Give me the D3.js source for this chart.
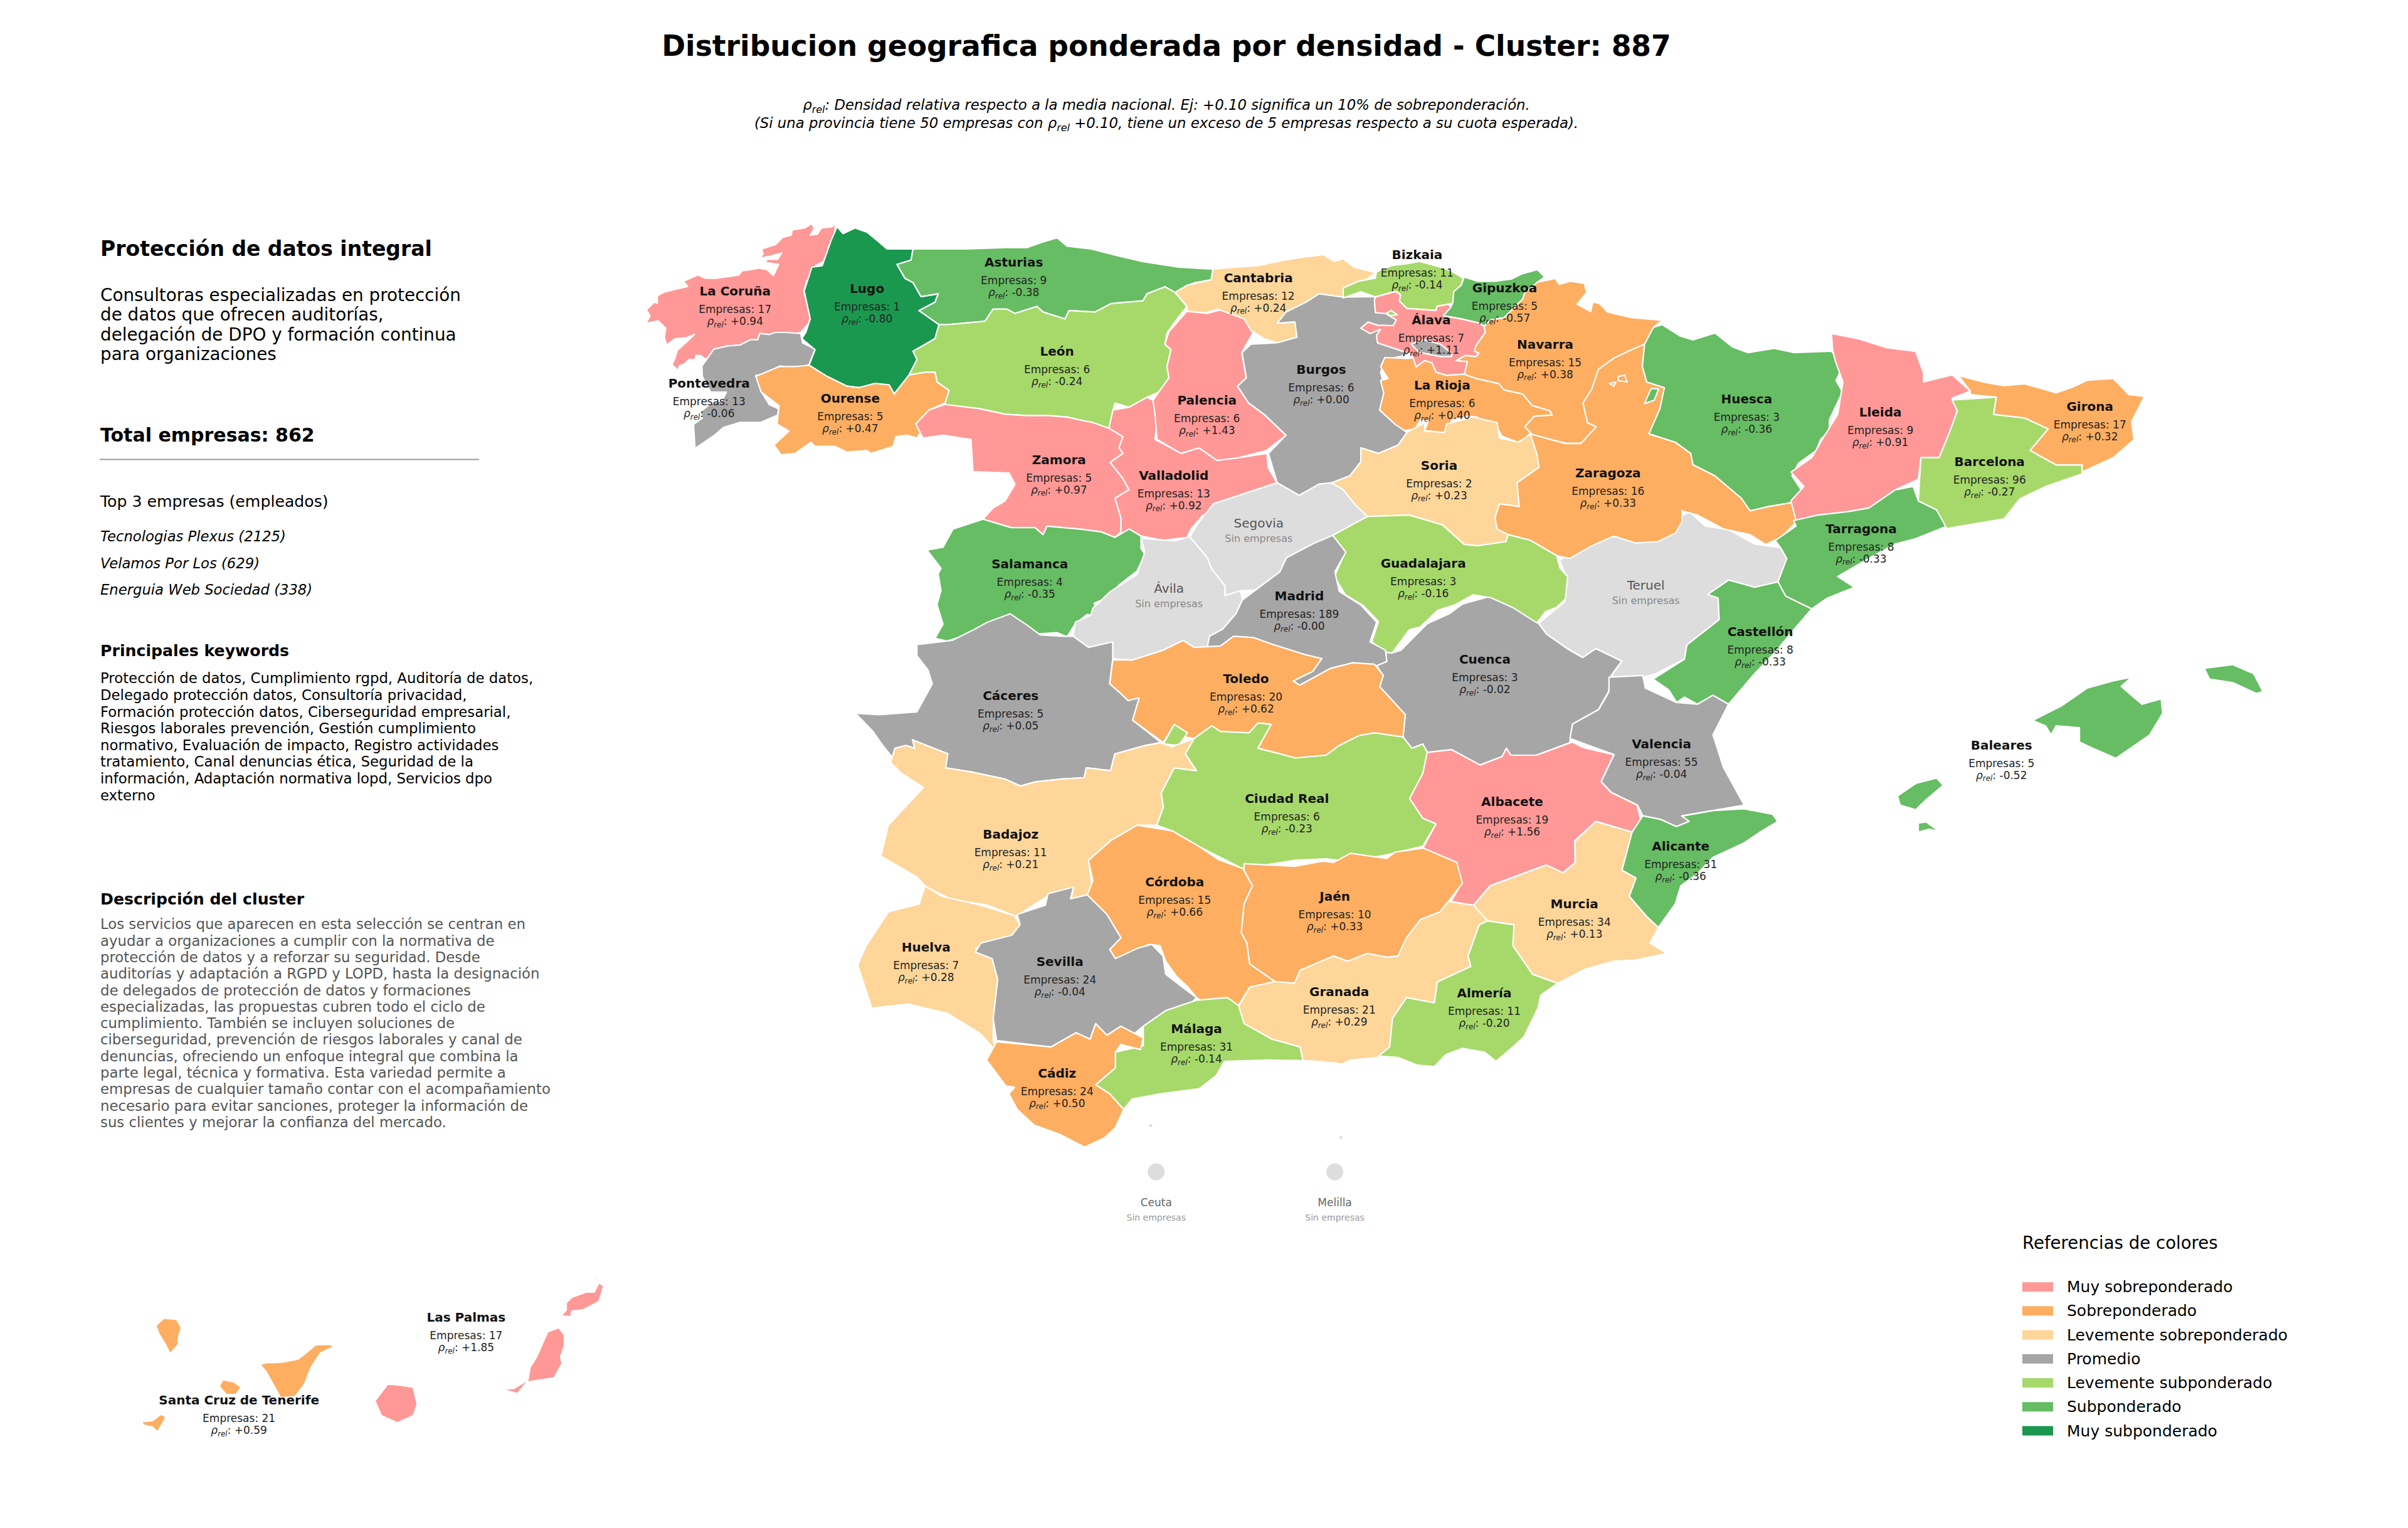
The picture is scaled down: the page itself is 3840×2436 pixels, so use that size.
<!DOCTYPE html>
<html>
<head>
<meta charset="utf-8">
<script src="https://cdn.jsdelivr.net/npm/d3@7"></script>
<style>
  html, body { margin: 0; background: #fff; }
  text { font-family: "DejaVu Sans", sans-serif; }
</style>
</head>
<body>
<svg id="chart" width="3840" height="2436"></svg>
<script>
// province data, as printed on the map
const provinces = ["La Coruña","Lugo","Asturias","León","Pontevedra","Ourense","Zamora","Palencia","Valladolid","Salamanca",
  "Cantabria","Bizkaia","Gipuzkoa","Álava","Navarra","Burgos","La Rioja","Soria","Zaragoza","Huesca","Guadalajara","Madrid",
  "Lleida","Girona","Barcelona","Tarragona","Castellón","Valencia","Baleares","Alicante",
  "Toledo","Cuenca","Cáceres","Badajoz","Ciudad Real","Albacete",
  "Córdoba","Jaén","Huelva","Sevilla","Murcia","Granada","Almería","Málaga","Cádiz",
  "Las Palmas","Santa Cruz de Tenerife"];
const empresas = [17,1,9,6,13,5,5,6,13,4,
  12,11,5,7,15,6,6,2,16,3,3,189,
  9,17,96,8,8,55,5,31,
  20,3,5,11,6,19,
  15,10,7,24,34,21,11,31,24,
  17,21];
const rhoRel = ["+0.94","-0.80","-0.38","-0.24","-0.06","+0.47","+0.97","+1.43","+0.92","-0.35",
  "+0.24","-0.14","-0.57","+1.11","+0.38","+0.00","+0.40","+0.23","+0.33","-0.36","-0.16","-0.00",
  "+0.91","+0.32","-0.27","-0.33","-0.33","-0.04","-0.52","-0.36",
  "+0.62","-0.02","+0.05","+0.21","-0.23","+1.56",
  "+0.66","+0.33","+0.28","-0.04","+0.13","+0.29","-0.20","-0.14","+0.50",
  "+1.85","+0.59"];
const sinEmpresas = ["Segovia","Ávila","Teruel"];
const plazas = ["Ceuta","Melilla"];
const totalEmpresas = 862;

const legendLabels = ["Muy sobreponderado","Sobreponderado","Levemente sobreponderado","Promedio","Levemente subponderado","Subponderado","Muy subponderado"];
const legendColors = ["#ff9896","#fdae61","#fed699","#a6a6a6","#a6d96a","#66bd63","#1a9850"];
const rhoBreaks = [-0.75,-0.3,-0.1,0.1,0.3,0.75];

const introLines = ["Consultoras especializadas en protección","de datos que ofrecen auditorías,","delegación de DPO y formación continua","para organizaciones"];
const topEmpresas = ["Tecnologias Plexus (2125)","Velamos Por Los (629)","Energuia Web Sociedad (338)"];
const keywordLines = ["Protección de datos, Cumplimiento rgpd, Auditoría de datos,","Delegado protección datos, Consultoría privacidad,","Formación protección datos, Ciberseguridad empresarial,","Riesgos laborales prevención, Gestión cumplimiento","normativo, Evaluación de impacto, Registro actividades","tratamiento, Canal denuncias ética, Seguridad de la","información, Adaptación normativa lopd, Servicios dpo","externo"];
const descLines = ["Los servicios que aparecen en esta selección se centran en","ayudar a organizaciones a cumplir con la normativa de","protección de datos y a reforzar su seguridad. Desde","auditorías y adaptación a RGPD y LOPD, hasta la designación","de delegados de protección de datos y formaciones","especializadas, las propuestas cubren todo el ciclo de","cumplimiento. También se incluyen soluciones de","ciberseguridad, prevención de riesgos laborales y canal de","denuncias, ofreciendo un enfoque integral que combina la","parte legal, técnica y formativa. Esta variedad permite a","empresas de cualquier tamaño contar con el acompañamiento","necesario para evitar sanciones, proteger la información de","sus clientes y mejorar la confianza del mercado."];

// outlines were traced on separate map sheets, each sheet gets its own pair of scales
const sheetBoxes = {
  A: [1000,330,1000,700,1568,1568],
  B: [1900,330,1100,700,1568,1568],
  C: [2400,500,1300,900,1568,1568],
  D: [1350,800,1100,700,1568,1568],
  E: [1350,1350,1400,650,1568,1568],
  F: [200,2000,800,350,1568,1050],
  G: [1020,350,320,390,960,1170],
  H: [2150,420,400,320,1200,960]
};
const sheets = {};
Object.entries(sheetBoxes).forEach(([k, b]) => {
  sheets[k] = {
    x: d3.scaleLinear().domain([0, b[4]]).range([b[0], b[0] + b[2]]),
    y: d3.scaleLinear().domain([0, b[5]]).range([b[1], b[1] + b[3]])
  };
});

// paint order matters: the later province owns the shared border
const outlines = [
  ["Cuenca","D",[[1240,540],[1260,530],[1320,435],[1370,400],[1400,365],[1470,335],[1530,385],[1573,434],[1591,472],[1638,524],[1673,556],[1703,524],[1762,569],[1738,620],[1732,678],[1709,742],[1650,794],[1644,860],[1568,905],[1510,905],[1500,880],[1490,910],[1440,940],[1375,885],[1320,895],[1310,865],[1285,880],[1265,840],[1270,760],[1212,660],[1220,620],[1205,585],[1228,570],[1225,530]]],
  ["Teruel","C",[[105,685],[140,650],[190,620],[245,620],[300,625],[330,570],[355,550],[385,590],[430,600],[480,640],[530,650],[542,680],[530,745],[480,760],[430,740],[390,780],[410,790],[412,850],[350,920],[345,960],[290,1000],[265,1010],[265,1045],[205,1005],[225,965],[175,930],[150,955],[120,930],[80,890],[65,860],[115,800],[120,740]]],
  ["La Coruña","G",[[948,12],[935,35],[935,70],[920,110],[905,125],[900,150],[880,200],[830,228],[825,262],[800,290],[785,345],[805,410],[815,470],[810,495],[770,540],[745,545],[700,540],[650,540],[620,550],[575,545],[565,575],[530,575],[480,600],[420,605],[355,620],[320,670],[290,650],[270,650],[265,670],[235,670],[215,690],[190,700],[185,722],[155,695],[170,660],[180,625],[220,590],[262,550],[225,565],[170,570],[130,600],[118,565],[125,520],[90,485],[60,490],[30,498],[50,460],[32,432],[70,395],[85,400],[85,365],[115,348],[165,335],[230,320],[210,295],[280,265],[310,280],[360,282],[410,275],[475,265],[490,245],[530,240],[570,232],[610,240],[640,268],[665,215],[600,205],[610,190],[660,190],[680,160],[625,175],[575,185],[590,165],[585,140],[650,120],[685,85],[725,75],[730,50],[790,40],[825,18],[835,45],[815,75],[850,70],[870,40],[920,35]]],
  ["Pontevedra","G",[[770,545],[780,590],[840,620],[810,695],[740,712],[670,700],[600,740],[555,745],[580,790],[580,820],[620,885],[665,905],[660,935],[580,970],[480,970],[400,995],[360,1030],[265,1095],[258,980],[300,950],[290,920],[340,880],[395,865],[415,825],[385,825],[340,825],[315,780],[300,750],[298,700],[320,670],[355,620],[420,605],[480,600],[530,575],[565,575],[575,545],[620,550],[650,540],[700,540]]],
  ["Lugo","A",[[525,70],[540,95],[570,75],[600,90],[630,125],[650,150],[715,150],[710,190],[675,205],[695,255],[715,270],[735,320],[778,310],[770,340],[730,370],[745,385],[780,420],[770,470],[740,495],[715,515],[725,545],[705,600],[668,668],[655,635],[620,630],[580,645],[550,640],[500,605],[455,565],[470,510],[437,470],[447,447],[458,400],[443,300],[462,215],[488,210],[510,120]]],
  ["Asturias","A",[[715,150],[800,150],[850,150],[950,145],[1000,145],[1040,125],[1075,110],[1100,140],[1160,150],[1230,175],[1290,195],[1380,215],[1465,222],[1460,260],[1420,270],[1400,280],[1370,305],[1345,285],[1300,310],[1290,335],[1210,345],[1170,375],[1105,370],[1095,400],[1040,375],[1025,355],[970,380],[950,365],[915,365],[895,408],[800,420],[780,420],[745,385],[730,370],[770,340],[778,310],[735,320],[715,270],[695,255],[675,205],[710,190]]],
  ["León","A",[[780,420],[800,420],[895,408],[915,365],[950,365],[970,380],[1025,355],[1040,375],[1095,400],[1105,370],[1170,375],[1210,345],[1290,335],[1300,310],[1345,285],[1370,305],[1400,355],[1375,400],[1350,450],[1345,490],[1360,510],[1350,570],[1355,610],[1330,660],[1300,680],[1255,715],[1220,700],[1215,725],[1205,790],[1190,785],[1165,770],[1130,760],[1100,750],[1055,745],[1000,745],[945,740],[880,720],[800,715],[795,700],[805,655],[775,625],[770,590],[705,600],[725,545],[715,515],[740,495],[770,470]]],
  ["Ourense","A",[[455,565],[500,605],[550,640],[580,645],[620,630],[655,635],[668,668],[705,600],[745,590],[770,590],[775,625],[805,655],[795,700],[755,725],[722,775],[738,795],[725,825],[700,815],[672,820],[665,855],[610,880],[600,870],[550,875],[520,855],[470,855],[460,840],[420,880],[385,885],[367,850],[405,800],[375,775],[380,710],[335,660],[322,605],[380,570],[420,570]]],
  ["Zamora","A",[[795,705],[880,720],[945,740],[1000,745],[1055,745],[1100,750],[1130,760],[1165,770],[1205,790],[1240,820],[1230,860],[1240,880],[1208,912],[1240,970],[1255,1010],[1220,1040],[1235,1110],[1235,1160],[1220,1180],[1185,1160],[1130,1150],[1050,1140],[1040,1170],[1020,1145],[960,1145],[890,1115],[915,1075],[945,1050],[970,990],[955,950],[865,945],[860,830],[790,815],[740,825],[722,775],[755,725]]],
  ["Valladolid","A",[[1205,790],[1215,725],[1255,715],[1300,680],[1330,700],[1320,830],[1385,880],[1430,860],[1475,905],[1530,895],[1600,880],[1603,930],[1625,985],[1466,1060],[1480,1100],[1440,1100],[1410,1150],[1400,1180],[1340,1190],[1285,1175],[1255,1150],[1235,1180],[1220,1180],[1235,1160],[1235,1110],[1220,1040],[1255,1010],[1240,970],[1208,912],[1240,880],[1230,860],[1240,820]]],
  ["Palencia","A",[[1400,372],[1450,380],[1490,365],[1545,400],[1565,450],[1537,520],[1548,610],[1526,640],[1554,700],[1592,740],[1614,770],[1648,815],[1598,870],[1530,895],[1475,905],[1430,860],[1385,880],[1325,830],[1320,740],[1315,690],[1330,660],[1355,610],[1350,570],[1360,510],[1345,490],[1355,445]]],
  ["Salamanca","A",[[890,1115],[960,1145],[1020,1145],[1040,1170],[1050,1140],[1130,1150],[1185,1160],[1220,1180],[1255,1150],[1285,1175],[1285,1220],[1295,1240],[1275,1300],[1230,1350],[1200,1395],[1168,1415],[1172,1430],[1195,1415],[1180,1465],[1150,1455],[1120,1490],[1100,1535],[1075,1520],[1020,1525],[990,1490],[960,1455],[920,1480],[880,1500],[845,1530],[800,1550],[770,1540],[790,1490],[775,1420],[785,1370],[778,1310],[785,1290],[750,1225],[790,1215],[815,1150]]],
  ["Cantabria","B",[[49,222],[100,215],[150,210],[210,190],[250,180],[300,170],[325,195],[345,185],[370,215],[420,235],[390,265],[345,290],[345,322],[290,310],[260,340],[215,375],[195,415],[235,410],[240,465],[195,485],[165,470],[135,440],[120,400],[60,365],[30,378],[-10,372],[-10,355],[-37,305],[-10,280],[45,260]]],
  ["Burgos","B",[[290,310],[345,322],[415,320],[470,390],[470,425],[500,525],[440,545],[430,590],[440,650],[428,725],[460,770],[490,805],[470,850],[425,880],[385,860],[385,910],[360,960],[320,985],[290,990],[245,1030],[195,985],[175,880],[215,815],[185,770],[165,740],[130,700],[105,640],[125,610],[115,520],[135,490],[195,485],[240,465],[235,410],[195,415],[215,375],[260,340]]],
  ["Bizkaia","H",[[-24,118],[50,85],[130,70],[135,40],[210,10],[290,0],[340,-10],[395,5],[450,20],[500,40],[550,70],[540,105],[505,135],[500,190],[480,195],[425,205],[420,225],[350,220],[280,215],[245,180],[250,150],[230,135],[205,140],[130,160],[60,135],[-24,165]]],
  ["Gipuzkoa","H",[[555,65],[620,85],[700,85],[780,75],[830,50],[905,30],[940,65],[905,90],[900,110],[845,140],[835,170],[770,235],[745,260],[680,270],[650,300],[625,285],[540,265],[455,250],[490,210],[500,190],[505,135],[540,105]]],
  ["Navarra","H",[[905,90],[990,72],[1010,100],[1060,85],[1130,95],[1140,140],[1095,195],[1160,230],[1170,185],[1200,190],[1240,232],[1356,259],[1503,272],[1461,305],[1419,386],[1356,413],[1272,453],[1198,507],[1166,600],[1124,668],[1145,761],[1187,781],[1130,860],[1040,860],[880,820],[845,780],[890,730],[975,725],[965,705],[880,680],[835,625],[745,605],[720,575],[610,550],[555,530],[570,470],[515,465],[560,440],[610,445],[625,430],[605,420],[610,395],[655,330],[650,300],[680,270],[745,260],[770,235],[835,170],[845,140]]],
  ["Álava","H",[[130,160],[205,140],[230,135],[250,150],[245,180],[280,215],[350,220],[420,225],[425,205],[480,195],[490,210],[455,250],[540,265],[625,285],[650,300],[655,330],[610,395],[605,420],[625,430],[610,445],[560,440],[515,465],[570,470],[555,530],[470,535],[420,520],[400,475],[365,465],[325,495],[310,450],[290,430],[230,410],[140,380],[135,345],[155,315],[105,335],[60,310],[95,280],[140,295],[215,297],[230,270],[180,240],[130,235],[125,175]]],
  ["Burgos","H",[[300,385],[360,365],[440,385],[495,430],[495,445],[440,445],[365,430],[340,425]]],
  ["Bizkaia","H",[[180,240],[205,225],[235,245],[205,250]]],
  ["La Rioja","H",[[175,450],[290,455],[310,450],[325,495],[365,465],[400,475],[420,520],[470,535],[555,530],[610,550],[720,575],[745,605],[835,625],[880,680],[965,705],[975,725],[890,730],[845,780],[880,820],[810,855],[735,825],[705,770],[635,760],[620,735],[570,730],[495,750],[470,810],[365,800],[385,750],[345,750],[320,790],[270,800],[225,770],[150,700],[170,620],[155,560],[190,550],[155,495]]],
  ["Soria","B",[[490,805],[530,770],[530,800],[575,805],[580,775],[640,750],[695,770],[700,825],[745,840],[770,810],[785,880],[790,930],[740,985],[745,1070],[700,1060],[690,1110],[695,1150],[720,1170],[715,1195],[650,1210],[620,1205],[570,1135],[495,1100],[400,1105],[370,1060],[345,1010],[318,985],[360,960],[385,910],[385,860],[425,880],[470,850]]],
  ["Zaragoza","B",[[1030,490],[1025,570],[1035,625],[1075,645],[1065,720],[1040,810],[1100,840],[1135,880],[1140,920],[1190,960],[1250,1040],[1270,1085],[1310,1070],[1365,1055],[1378,1120],[1340,1180],[1305,1205],[1270,1170],[1210,1150],[1150,1100],[1115,1085],[1115,1125],[1100,1165],[1060,1195],[1010,1200],[960,1175],[910,1210],[860,1255],[830,1245],[770,1190],[720,1170],[695,1150],[690,1110],[700,1060],[745,1070],[740,985],[790,930],[785,880],[770,810],[850,845],[885,845],[920,785],[900,770],[890,700],[910,650],[925,580],[960,540],[1000,510]]],
  ["Navarra","B",[[970,605],[985,600],[990,625],[970,620]],[[950,630],[965,625],[960,640]]],
  ["Huesca","B",[[1070,420],[1110,460],[1140,475],[1190,450],[1230,500],[1265,520],[1325,505],[1370,520],[1455,515],[1480,570],[1465,620],[1480,660],[1450,760],[1450,800],[1430,830],[1420,870],[1380,915],[1365,960],[1390,1020],[1365,1055],[1310,1070],[1270,1085],[1250,1040],[1190,960],[1140,920],[1135,880],[1100,840],[1040,810],[1065,720],[1075,645],[1035,625],[1025,570],[1030,490],[1050,430]],[[1045,648],[1062,650],[1052,690],[1030,702]]],
  ["Guadalajara","B",[[320,1170],[400,1105],[495,1100],[570,1135],[620,1205],[650,1210],[715,1195],[720,1170],[770,1190],[830,1245],[838,1290],[855,1320],[850,1400],[830,1430],[805,1445],[785,1485],[730,1430],[680,1395],[640,1385],[600,1420],[560,1440],[520,1500],[495,1510],[456,1593],[440,1590],[410,1553],[425,1480],[390,1423],[350,1385],[325,1320],[350,1230]]],
  ["Segovia","D",[[979,-68],[1029,-23],[1074,-63],[1102,-68],[1129,-43],[1154,7],[1184,52],[1105,120],[1060,150],[1000,200],[985,250],[930,315],[895,318],[860,335],[860,300],[830,240],[820,200],[780,125],[799,77],[834,7]]],
  ["Ávila","D",[[670,130],[745,140],[780,125],[820,200],[830,240],[860,300],[860,335],[895,318],[900,350],[885,400],[855,455],[825,480],[820,520],[790,520],[765,495],[720,530],[650,565],[605,560],[605,500],[550,520],[515,480],[520,430],[555,405],[560,380],[600,320],[660,260],[678,180]]],
  ["Madrid","D",[[1105,120],[1135,180],[1110,250],[1120,320],[1170,370],[1205,430],[1190,500],[1225,530],[1228,570],[1205,585],[1150,575],[1100,595],[1030,655],[1015,640],[1060,605],[1080,560],[1040,545],[970,510],[925,485],[880,480],[850,515],[820,520],[825,480],[855,455],[885,400],[900,350],[930,315],[985,250],[1000,200],[1060,150]]],
  ["Lleida","C",[[628,55],[680,70],[735,95],[790,105],[805,165],[805,190],[860,170],[895,215],[860,235],[870,270],[855,330],[835,400],[800,400],[795,460],[750,490],[700,540],[660,550],[600,560],[560,575],[550,520],[575,480],[550,440],[590,400],[610,350],[640,280],[650,190],[635,130],[630,100]]],
  ["Tarragona","C",[[555,575],[600,560],[660,550],[700,540],[750,490],[785,480],[795,520],[830,545],[850,590],[790,625],[750,640],[700,680],[640,730],[672,760],[620,790],[590,820],[540,785],[525,745],[542,680],[530,650],[520,630],[560,590]]],
  ["Castellón","C",[[390,780],[430,740],[480,760],[525,745],[540,785],[590,820],[560,870],[520,940],[480,1000],[430,1085],[400,1060],[370,1085],[345,1065],[330,1080],[315,1045],[285,1015],[345,960],[350,920],[412,850],[410,790]]],
  ["Barcelona","C",[[860,240],[945,232],[940,280],[1000,290],[1045,320],[1010,380],[1060,420],[1110,420],[1110,445],[1040,480],[990,515],[960,570],[850,597],[830,545],[795,520],[800,400],[835,400],[855,330],[870,270]]],
  ["Girona","C",[[872,172],[920,190],[960,200],[1000,195],[1060,220],[1090,205],[1120,185],[1170,180],[1200,225],[1230,230],[1205,300],[1210,350],[1170,400],[1110,440],[1110,420],[1060,420],[1010,380],[1045,320],[1000,290],[940,280],[945,232],[895,225],[895,215]]],
  ["Baleares","C",[[1015,1130],[1070,1090],[1120,1040],[1170,1020],[1205,1010],[1185,1035],[1205,1060],[1225,1085],[1262,1070],[1265,1110],[1240,1170],[1175,1235],[1135,1210],[1105,1190],[1105,1150],[1060,1145],[1050,1170],[1040,1145]],[[1345,985],[1400,975],[1440,1000],[1458,1050],[1445,1055],[1400,1025],[1355,1015]],[[755,1340],[790,1305],[830,1290],[843,1310],[810,1350],[790,1378],[760,1365]],[[795,1415],[810,1412],[835,1438],[815,1432],[795,1440]]],
  ["Valencia","C",[[200,1010],[265,1005],[270,1040],[330,1080],[370,1085],[400,1060],[430,1085],[400,1170],[420,1260],[460,1365],[400,1380],[340,1395],[355,1410],[330,1425],[300,1405],[265,1395],[255,1365],[205,1330],[185,1300],[210,1225],[125,1180],[130,1140],[180,1100],[200,1050]]],
  ["Toledo","D",[[605,565],[650,565],[720,530],[765,495],[790,520],[850,515],[880,480],[925,485],[970,510],[1040,545],[1080,560],[1060,605],[1015,640],[1030,655],[1100,595],[1150,575],[1200,580],[1220,620],[1212,660],[1270,760],[1265,840],[1200,825],[1165,835],[1120,870],[1090,905],[1020,915],[985,900],[935,880],[965,795],[935,790],[915,825],[850,820],[830,800],[790,845],[770,840],[745,795],[720,860],[650,780],[665,700],[640,710],[620,680],[598,650]]],
  ["Ciudad Real","D",[[790,845],[830,800],[850,820],[915,825],[935,790],[965,795],[935,880],[985,900],[1020,915],[1090,905],[1120,870],[1165,835],[1200,825],[1265,840],[1285,880],[1310,865],[1320,895],[1310,970],[1280,1060],[1310,1130],[1340,1150],[1310,1230],[1230,1260],[1140,1285],[1090,1275],[1020,1280],[900,1310],[800,1230],[740,1175],[705,1155],[720,1090],[715,1040],[745,950],[795,960],[770,900]],[[745,795],[775,825],[755,870],[720,865]]],
  ["Albacete","D",[[1320,895],[1375,885],[1440,940],[1490,910],[1500,880],[1510,905],[1568,905],[1650,858],[1673,877],[1744,903],[1715,999],[1738,1038],[1797,1083],[1806,1141],[1785,1179],[1703,1141],[1655,1211],[1656,1288],[1628,1325],[1590,1297],[1526,1334],[1463,1371],[1425,1441],[1374,1427],[1399,1362],[1386,1288],[1310,1237],[1340,1150],[1310,1130],[1280,1060],[1310,970]]],
  ["Cáceres","D",[[372,400],[410,440],[440,475],[490,480],[515,480],[550,520],[605,500],[605,560],[598,650],[620,680],[640,710],[665,700],[650,780],[715,860],[680,870],[610,900],[600,960],[545,950],[540,985],[490,990],[430,1000],[395,1015],[360,990],[285,965],[225,950],[230,900],[150,850],[155,880],[105,915],[80,865],[60,820],[20,755],[75,760],[160,750],[195,650],[185,600],[160,550],[160,510],[240,495],[285,460],[320,430]]],
  ["Badajoz","D",[[150,850],[230,900],[225,950],[285,965],[360,990],[395,1015],[430,1000],[490,990],[540,985],[545,950],[600,960],[610,900],[680,870],[715,860],[740,875],[790,845],[770,900],[795,960],[745,950],[715,1040],[720,1090],[705,1155],[660,1155],[600,1210],[550,1280],[560,1400],[510,1420],[515,1385],[470,1395],[385,1480],[320,1440],[240,1420],[180,1375],[160,1340],[78,1265],[95,1155],[175,1020],[125,970],[100,930],[110,880],[135,870],[155,880]]],
  ["Huelva","E",[[140,150],[170,190],[240,225],[300,265],[310,300],[295,340],[230,390],[260,430],[270,510],[262,660],[262,745],[268,790],[240,720],[180,640],[110,605],[45,620],[20,455],[35,380],[75,250],[130,220]]],
  ["Córdoba","E",[[432,52],[472,-24],[519,-83],[582,-61],[629,-2],[665,50],[708,84],[725,150],[710,220],[705,330],[715,370],[720,450],[765,518],[720,540],[700,610],[680,580],[640,600],[625,580],[610,540],[590,500],[570,440],[560,380],[540,375],[480,430],[470,395],[490,350],[465,260],[430,185],[440,130]]],
  ["Jaén","E",[[710,65],[800,75],[850,55],[870,60],[900,25],[965,45],[980,20],[1030,5],[1090,60],[1100,140],[1075,210],[1060,250],[1025,280],[1000,350],[985,420],[965,425],[930,410],[895,440],[870,420],[810,475],[800,525],[765,518],[720,450],[715,370],[705,330],[710,220],[725,150],[710,90]]],
  ["Sevilla","E",[[405,155],[400,200],[430,185],[465,260],[490,350],[470,395],[480,430],[520,390],[545,375],[565,420],[570,490],[600,540],[625,580],[610,615],[570,630],[530,690],[510,725],[490,690],[465,725],[445,680],[435,740],[410,715],[365,770],[268,745],[262,660],[270,510],[260,430],[230,405],[240,370],[295,340],[310,300],[305,260],[355,225],[360,180]]],
  ["Murcia","E",[[1120,225],[1150,150],[1200,110],[1250,70],[1280,100],[1302,60],[1301,-21],[1338,-97],[1403,-56],[1385,90],[1410,120],[1398,190],[1430,270],[1450,310],[1435,370],[1465,410],[1410,435],[1370,440],[1320,470],[1270,525],[1225,490],[1190,380],[1192,300],[1145,285]]],
  ["Alicante","E",[[1422,-119],[1454,-105],[1482,-78],[1505,-98],[1492,-118],[1547,-139],[1603,-146],[1654,-125],[1663,-97],[1631,-56],[1603,-15],[1547,41],[1519,105],[1490,150],[1480,220],[1450,310],[1430,270],[1398,190],[1410,120],[1385,90],[1403,-56]]],
  ["Granada","E",[[1075,210],[1120,225],[1145,285],[1130,300],[1110,420],[1115,460],[1055,520],[1050,600],[1000,580],[975,660],[970,770],[950,810],[900,820],[885,835],[845,825],[815,822],[810,770],[760,740],[710,680],[700,615],[720,540],[765,518],[800,525],[810,475],[870,420],[895,440],[930,410],[965,425],[985,420],[1000,350],[1025,280],[1060,250]]],
  ["Almería","E",[[1145,285],[1192,300],[1190,380],[1225,490],[1270,525],[1240,570],[1235,620],[1210,730],[1190,770],[1160,825],[1140,790],[1100,775],[1070,800],[1050,845],[1020,840],[985,810],[950,805],[970,770],[975,660],[1000,580],[1050,600],[1055,520],[1115,460],[1110,420],[1130,300]]],
  ["Málaga","E",[[625,590],[680,580],[700,610],[710,680],[760,740],[810,770],[815,822],[755,820],[675,825],[660,880],[630,930],[560,950],[510,970],[495,1010],[470,950],[445,915],[480,850],[480,790],[530,765],[530,690],[570,630]]],
  ["Cádiz","E",[[268,750],[365,770],[410,715],[435,740],[445,680],[465,725],[490,690],[530,735],[525,780],[490,760],[480,790],[480,850],[445,915],[470,950],[495,1010],[480,1080],[460,1120],[425,1155],[380,1105],[335,1070],[305,1010],[290,950],[300,925],[285,920],[250,820]]],
  ["Santa Cruz de Tenerife","F",[[95,340],[120,305],[160,310],[175,350],[165,400],[165,430],[140,475],[125,430],[105,380]],[[293,630],[305,598],[340,610],[362,635],[345,670],[315,670]],[[420,525],[440,518],[490,515],[540,500],[565,470],[595,432],[640,430],[652,440],[610,470],[580,540],[560,620],[530,680],[485,685],[465,630],[440,560]],[[52,800],[85,795],[110,765],[127,775],[115,810],[100,848],[85,825],[55,815]]],
  ["Las Palmas","F",[[780,700],[820,620],[860,625],[900,635],[905,670],[912,715],[900,770],[850,805],[800,770]],[[1178,645],[1215,640],[1258,600],[1265,540],[1285,490],[1320,370],[1355,350],[1372,385],[1372,435],[1360,490],[1365,520],[1340,590],[1255,610],[1225,665]],[[1362,293],[1378,265],[1378,230],[1395,205],[1440,180],[1465,180],[1480,135],[1495,150],[1480,225],[1430,265],[1395,270],[1392,298]],[[1468,125],[1475,108],[1477,128]]]
];

// label anchors per province, same sheets as the outlines
const labelAnchors = {
  "La Coruña":["A",270,300],"Lugo":["A",600,292],"Asturias":["A",967,198],"León":["A",1075,515],"Pontevedra":["A",205,630],"Ourense":["A",558,683],"Zamora":["A",1080,902],"Palencia":["A",1450,690],"Valladolid":["A",1367,958],"Salamanca":["A",1007,1275],"Ávila":["A",1355,1362],
  "Cantabria":["B",152,252],"Bizkaia":["B",513,170],"Gipuzkoa":["B",712,290],"Álava":["B",545,403],"Navarra":["B",804,490],"Burgos":["B",295,580],"La Rioja":["B",570,636],"Soria":["B",563,922],"Zaragoza":["B",947,950],"Huesca":["B",1262,685],"Guadalajara":["B",527,1273],"Madrid":["B",245,1388],"Segovia":["B",153,1130],"Teruel":["B",1033,1350],
  "Lleida":["C",722,274],"Girona":["C",1125,257],"Barcelona":["C",932,411],"Tarragona":["C",685,597],"Castellón":["C",491,883],"Valencia":["C",301,1195],"Baleares":["C",955,1198],"Alicante":["C",338,1480],
  "Toledo":["D",908,632],"Cuenca":["D",1451,563],"Cáceres":["D",373,692],"Badajoz":["D",373,1187],"Ciudad Real":["D",1001,1060],"Albacete":["D",1513,1071],
  "Córdoba":["E",586,135],"Jaén":["E",872,190],"Huelva":["E",142,386],"Sevilla":["E",381,441],"Murcia":["E",1300,219],"Granada":["E",880,558],"Almería":["E",1139,562],"Málaga":["E",625,699],"Cádiz":["E",376,870],
  "Las Palmas":["F",1065,300],"Santa Cruz de Tenerife":["F",355,697],
  "Ceuta":["E",553,1250],"Melilla":["E",872,1250]
};
// the real territory of each plaza, tiny specks above its marker
const plazaSpecks = { "Ceuta":["E",543,1072], "Melilla":["E",883,1118] };

const svg = d3.select("#chart");
const colorScale = d3.scaleThreshold().domain(rhoBreaks).range(legendColors.slice().reverse());
const NO_DATA = "#dddddd";

function provinceColor(name) {
  const i = provinces.indexOf(name);
  return i < 0 ? NO_DATA : colorScale(parseFloat(rhoRel[i]));
}

const mapLayer = svg.append("g");
outlines.forEach(o => {
  const sheet = sheets[o[1]];
  const line = d3.line().x(d => sheet.x(d[0])).y(d => sheet.y(d[1]));
  const rings = o.slice(2);
  mapLayer.append("path")
    .attr("d", rings.map(r => line(r) + "Z").join(""))
    .attr("fill", provinceColor(o[0]))
    .attr("stroke", "#fff")
    .attr("stroke-width", 2.2)
    .attr("stroke-linejoin", "round");
});

plazas.forEach(p => {
  const a = labelAnchors[p];
  mapLayer.append("circle")
    .attr("cx", sheets[a[0]].x(a[1]))
    .attr("cy", sheets[a[0]].y(a[2]))
    .attr("r", 13.5)
    .attr("fill", NO_DATA);
  const s = plazaSpecks[p];
  mapLayer.append("circle")
    .attr("cx", sheets[s[0]].x(s[1]))
    .attr("cy", sheets[s[0]].y(s[2]))
    .attr("r", 2.5)
    .attr("fill", NO_DATA);
});

function addText(x, y, str, size, opts = {}) {
  return svg.append("text")
    .attr("x", x).attr("y", y)
    .attr("font-size", size)
    .attr("font-weight", opts.weight || "normal")
    .attr("font-style", opts.style || "normal")
    .attr("text-anchor", opts.anchor || "start")
    .attr("fill", opts.fill || "#000")
    .text(str);
}

// rho with the "rel" subscript, whatever follows it has to undo the dy
function addRho(text, size) {
  text.append("tspan").attr("font-style", "italic").text("ρ");
  text.append("tspan").attr("font-style", "italic").attr("font-size", size * 0.7).attr("dy", size * 0.22).text("rel");
}

provinces.forEach((name, i) => {
  const a = labelAnchors[name];
  const x = sheets[a[0]].x(a[1]);
  const y = sheets[a[0]].y(a[2]) + 7;
  addText(x, y, name, 20, { weight: "bold", anchor: "middle", fill: "#111" });
  addText(x, y + 28, "Empresas: " + empresas[i], 17, { anchor: "middle", fill: "#222" });
  const t = addText(x, y + 47, null, 17, { anchor: "middle", fill: "#222" });
  addRho(t, 17);
  t.append("tspan").attr("dy", -17 * 0.22).text(": " + rhoRel[i]);
});

sinEmpresas.forEach(name => {
  const a = labelAnchors[name];
  const x = sheets[a[0]].x(a[1]);
  const y = sheets[a[0]].y(a[2]) + 7;
  addText(x, y, name, 20, { anchor: "middle", fill: "#555" });
  addText(x, y + 23, "Sin empresas", 16, { anchor: "middle", fill: "#888" });
});

plazas.forEach(name => {
  const a = labelAnchors[name];
  const x = sheets[a[0]].x(a[1]);
  addText(x, 1923, name, 17, { anchor: "middle", fill: "#666" });
  addText(x, 1946, "Sin empresas", 14, { anchor: "middle", fill: "#999" });
});

// title block
addText(1860, 89, "Distribucion geografica ponderada por densidad - Cluster: 887", 45.6, { weight: "bold", anchor: "middle" });
const sub1 = addText(1860, 175, null, 22.8, { style: "italic", anchor: "middle" });
addRho(sub1, 22.8);
sub1.append("tspan").attr("dy", -22.8 * 0.22).text(": Densidad relativa respecto a la media nacional. Ej: +0.10 significa un 10% de sobreponderación.");
const sub2 = addText(1860, 204, null, 22.8, { style: "italic", anchor: "middle" });
sub2.append("tspan").text("(Si una provincia tiene 50 empresas con ");
addRho(sub2, 22.8);
sub2.append("tspan").attr("dy", -22.8 * 0.22).text(" +0.10, tiene un exceso de 5 empresas respecto a su cuota esperada).");

// left panel
const LEFT = 160;
addText(LEFT, 408, "Protección de datos integral", 33, { weight: "bold" });
introLines.forEach((l, i) => addText(LEFT, 479.5 + i * 31.6, l, 27.8));
addText(LEFT, 703.6, "Total empresas: " + totalEmpresas, 30, { weight: "bold" });
svg.append("line").attr("x1", 159).attr("x2", 764).attr("y1", 732.6).attr("y2", 732.6).attr("stroke", "#999").attr("stroke-width", 2);
addText(LEFT, 807.6, "Top 3 empresas (empleados)", 25.2);
topEmpresas.forEach((l, i) => addText(LEFT, 863.4 + i * 42.3, l, 22.7, { style: "italic" }));
addText(LEFT, 1046, "Principales keywords", 25.2, { weight: "bold" });
keywordLines.forEach((l, i) => addText(LEFT, 1089.4 + i * 26.6, l, 22.8));
addText(LEFT, 1441.7, "Descripción del cluster", 25.2, { weight: "bold" });
descLines.forEach((l, i) => addText(LEFT, 1481.3 + i * 26.3, l, 22.8, { fill: "#555" }));

// legend
addText(3225, 1990.7, "Referencias de colores", 27.6);
const legendY = d3.scalePoint().domain(legendLabels).range([2051.7, 2281]);
legendLabels.forEach((l, i) => {
  svg.append("rect")
    .attr("x", 3225).attr("y", legendY(l) - 7.5)
    .attr("width", 49).attr("height", 15)
    .attr("fill", legendColors[i]);
  addText(3296, legendY(l) + 8.5, l, 25);
});
</script>
</body>
</html>
